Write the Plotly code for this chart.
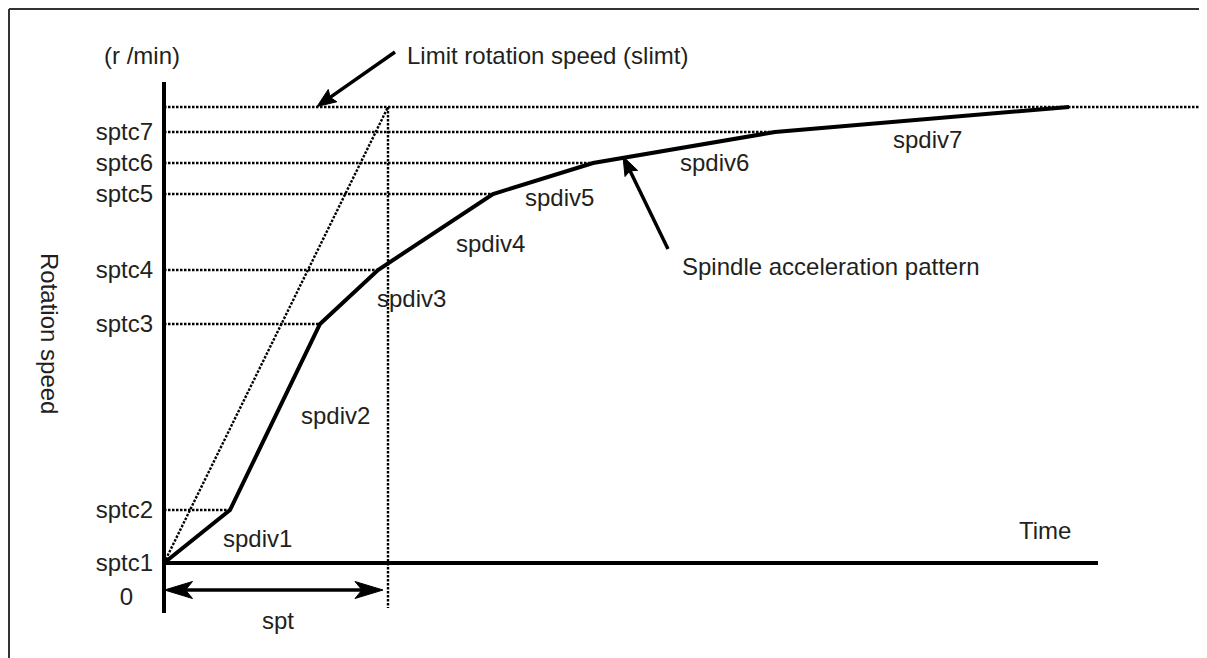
import numpy as np
import plotly.graph_objects as go

# ---------------- data ----------------
speed_tick_labels = ["0", "sptc1", "sptc2", "sptc3", "sptc4", "sptc5", "sptc6", "sptc7"]
zero_speed = 0
sptc_vals = [340, 870, 2730, 3270, 4030, 4340, 4650]      # sptc1 .. sptc7
slimt = 4900                                              # limit rotation speed
knee_times = [0, 66, 156, 214, 329, 429, 611, 905]        # time of each pattern knee
spt = 224                                                 # time constant
time_axis_end = 934
div_labels = ["spdiv1", "spdiv2", "spdiv3", "spdiv4", "spdiv5", "spdiv6", "spdiv7"]

pattern_speeds = sptc_vals + [slimt]

# ---------------- layout helpers (screen pixel coordinates) ----------------
PAGE_MARGIN = 8                 # default body margin of the html page
W, H = 1207 - PAGE_MARGIN, 658 - PAGE_MARGIN
ORIGIN_PX = 164                 # screen x of time 0
ZERO_PY = 597                   # screen y of speed 0
S_PER_PX = 10                   # speed units per pixel


def t_of(px):
    return px - ORIGIN_PX


def s_of(py):
    return (ZERO_PY - py) * S_PER_PX


def px_of(t):
    return t + ORIGIN_PX


def py_of(s):
    return ZERO_PY - s / S_PER_PX


FONT = dict(family="Arial, 'Liberation Sans', sans-serif", size=24, color="#231f20")
DOT = "2.5px,1.5px"
DOT_W = 2.4

fig = go.Figure()


def line(xs, ys, width, dash=None, color="black"):
    fig.add_trace(go.Scatter(x=xs, y=ys, mode="lines",
                             line=dict(color=color, width=width, dash=dash),
                             hoverinfo="skip", showlegend=False, cliponaxis=False))


def arrowhead(tip, tail, length, width, notch):
    """tip/tail given in data coords; geometry in pixels."""
    tx, ty = px_of(tip[0]), py_of(tip[1])
    ax, ay = px_of(tail[0]), py_of(tail[1])
    dx, dy = tx - ax, ty - ay
    n = np.hypot(dx, dy)
    ux, uy = dx / n, dy / n
    bx, by = tx - ux * length, ty - uy * length
    pxp, pyp = -uy, ux
    lx, ly = bx + pxp * width / 2, by + pyp * width / 2
    rx, ry = bx - pxp * width / 2, by - pyp * width / 2
    nx, ny = bx + ux * notch, by + uy * notch
    xs = [tx, lx, nx, rx, tx]
    ys = [ty, ly, ny, ry, ty]
    fig.add_trace(go.Scatter(x=[t_of(v) for v in xs], y=[s_of(v) for v in ys],
                             mode="lines", fill="toself", fillcolor="black",
                             line=dict(color="black", width=1),
                             hoverinfo="skip", showlegend=False, cliponaxis=False))
    return (t_of(nx), s_of(ny))


# dotted guides from the axis to each knee (sptc2..sptc7)
gx, gy = [], []
for k in range(1, len(sptc_vals)):
    gx += [0, knee_times[k], None]
    gy += [sptc_vals[k], sptc_vals[k], None]
line(gx, gy, DOT_W, DOT)

# limit rotation speed line
line([0, t_of(1207)], [slimt, slimt], DOT_W, DOT)
# diagonal to limit at spt
line([0, spt], [sptc_vals[0], slimt], DOT_W, DOT)
# vertical at spt
line([spt, spt], [slimt, s_of(608)], DOT_W, DOT)

# axes
line([0, 0], [s_of(613), s_of(82)], 4)
line([0, time_axis_end], [sptc_vals[0], sptc_vals[0]], 4)

# acceleration pattern
line(knee_times, pattern_speeds, 4)

# spt double arrow
y_spt = s_of(590)
left_tip = (0.5, y_spt)
right_tip = (spt - 5, y_spt)
e1 = arrowhead(left_tip, right_tip, 28, 17, 7)
e2 = arrowhead(right_tip, left_tip, 28, 17, 7)
line([e1[0], e2[0]], [y_spt, y_spt], 3.5)

# limit arrow
lim_tail = (t_of(395), s_of(52))
lim_tip = (t_of(317), slimt + 5)
e = arrowhead(lim_tip, lim_tail, 19, 15, 3)
line([lim_tail[0], e[0]], [lim_tail[1], e[1]], 3.5)

# spindle acceleration pattern arrow
t_hit = 459
s_hit = float(np.interp(t_hit, knee_times, pattern_speeds)) + 15
sp_tail = (t_of(668), s_of(249))
e = arrowhead((t_hit, s_hit), sp_tail, 19, 14, 3)
line([sp_tail[0], e[0]], [sp_tail[1], e[1]], 3.5)

# ---------------- text ----------------
ann = []


def text(t, s, txt, xanchor="center", angle=0):
    ann.append(dict(x=t, y=s, xref="x", yref="y", text=txt, showarrow=False,
                    xanchor=xanchor, yanchor="middle", font=FONT, textangle=angle))


# segment labels, offset (px) from each segment midpoint
offsets = [(60, 2), (60, -2), (62, 1), (55, 11), (16, 19), (30, 15), (5, 20)]
for i, lab in enumerate(div_labels):
    mt = (knee_times[i] + knee_times[i + 1]) / 2
    ms = (pattern_speeds[i] + pattern_speeds[i + 1]) / 2
    dx, dy = offsets[i]
    text(mt + dx, ms - dy * S_PER_PX, lab)

text(t_of(142), s_of(55), "(r /min)")
text(t_of(405), s_of(55), "Limit rotation speed (slimt)", xanchor="left")
text(t_of(680), s_of(266), "Spindle acceleration pattern", xanchor="left")
text(t_of(1045), s_of(530), "Time")
text(spt / 2 + 2, s_of(620), "spt")
text(t_of(50), s_of(333), "Rotation speed", angle=90)

nb = "\u00a0"
ticktext = [speed_tick_labels[0] + nb * 3] + speed_tick_labels[1:]

# outer frame: only the left and top edges are visible in the reference
frame_x = 1 / W
frame_y = 1 - 1 / H
fig.update_layout(
    width=W, height=H,
    margin=dict(l=0, r=0, t=0, b=0),
    paper_bgcolor="white", plot_bgcolor="white",
    showlegend=False, hovermode=False,
    annotations=ann,
    shapes=[
        dict(type="line", xref="paper", yref="paper", x0=frame_x, x1=frame_x,
             y0=0, y1=frame_y, line=dict(color="#333333", width=2)),
        dict(type="line", xref="paper", yref="paper", x0=frame_x, x1=1,
             y0=frame_y, y1=frame_y, line=dict(color="#333333", width=2)),
    ],
    xaxis=dict(range=[t_of(PAGE_MARGIN), t_of(PAGE_MARGIN + W)], visible=False, fixedrange=True),
    yaxis=dict(range=[s_of(PAGE_MARGIN + H), s_of(PAGE_MARGIN)], anchor="free",
               position=(ORIGIN_PX - PAGE_MARGIN) / W,
               tickmode="array", tickvals=[zero_speed] + sptc_vals, ticktext=ticktext,
               ticks="", showline=False, showgrid=False, zeroline=False,
               tickfont=FONT, ticklabelstandoff=11, fixedrange=True),
)

fig.write_html("out.html", config={"displayModeBar": False})
